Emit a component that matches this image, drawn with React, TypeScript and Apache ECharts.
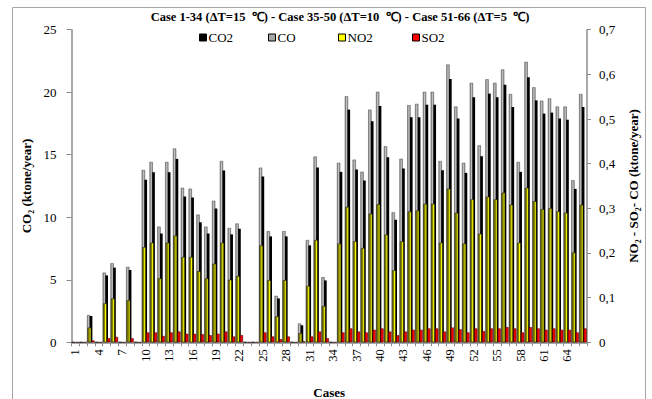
import React, { useEffect, useRef } from 'react';
import * as echarts from 'echarts';

const cases = Array.from({ length: 66 }, (_, i) => String(i + 1));

const co2 = [0, 0, 2.1, 0, 5.35, 5.97, 0, 5.78, 0, 13.0, 13.6, 8.7, 13.6, 14.67, 11.66, 11.58, 9.6, 8.7, 10.7, 13.74, 8.63, 9.08, 0, 0, 13.26, 8.47, 3.51, 8.47, 0, 1.36, 7.75, 13.98, 4.95, 0, 13.63, 18.61, 13.82, 12.94, 17.68, 18.9, 14.8, 9.8, 13.9, 18.0, 18.0, 19.0, 19.0, 13.76, 21.06, 17.9, 13.55, 19.6, 14.88, 19.89, 19.6, 20.6, 18.82, 13.63, 21.2, 19.35, 18.29, 18.37, 17.9, 17.8, 12.27, 18.82];
const co = [0, 0, 0.061, 0, 0.156, 0.177, 0, 0.169, 0, 0.386, 0.404, 0.259, 0.404, 0.434, 0.346, 0.344, 0.286, 0.259, 0.317, 0.406, 0.256, 0.266, 0, 0, 0.391, 0.249, 0.104, 0.249, 0, 0.042, 0.229, 0.416, 0.146, 0, 0.402, 0.551, 0.409, 0.382, 0.521, 0.561, 0.439, 0.291, 0.411, 0.531, 0.534, 0.561, 0.561, 0.406, 0.622, 0.528, 0.402, 0.581, 0.441, 0.589, 0.581, 0.611, 0.556, 0.404, 0.628, 0.571, 0.541, 0.546, 0.528, 0.528, 0.363, 0.556];
const no2 = [0, 0, 0.033, 0, 0.087, 0.098, 0, 0.094, 0, 0.213, 0.223, 0.143, 0.223, 0.239, 0.191, 0.191, 0.159, 0.143, 0.176, 0.223, 0.14, 0.148, 0, 0, 0.217, 0.139, 0.058, 0.139, 0, 0.02, 0.126, 0.229, 0.081, 0, 0.221, 0.303, 0.226, 0.211, 0.288, 0.309, 0.241, 0.161, 0.226, 0.293, 0.295, 0.31, 0.31, 0.223, 0.344, 0.29, 0.221, 0.32, 0.243, 0.326, 0.32, 0.335, 0.308, 0.223, 0.346, 0.316, 0.298, 0.3, 0.293, 0.29, 0.201, 0.308];
const so2 = [0, 0, 0.004, 0, 0.009, 0.012, 0, 0.009, 0, 0.022, 0.022, 0.014, 0.022, 0.024, 0.019, 0.019, 0.018, 0.016, 0.019, 0.024, 0.013, 0.016, 0, 0, 0.022, 0.013, 0.007, 0.013, 0, 0.002, 0.013, 0.024, 0.009, 0, 0.022, 0.031, 0.024, 0.022, 0.028, 0.031, 0.024, 0.016, 0.024, 0.028, 0.028, 0.031, 0.031, 0.024, 0.033, 0.029, 0.022, 0.031, 0.025, 0.031, 0.031, 0.034, 0.031, 0.022, 0.034, 0.031, 0.028, 0.031, 0.028, 0.028, 0.022, 0.031];

const titleText = 'Case 1-34 (ΔT=15  ℃) - Case 35-50 (ΔT=10  ℃) - Case 51-66 (ΔT=5  ℃)';
const FONT = 'Liberation Serif, Times New Roman, serif';

export default function App() {
  const ref = useRef<HTMLDivElement>(null);
  useEffect(() => {
    if (!ref.current) return;
    const chart = echarts.init(ref.current, undefined, { renderer: 'svg' });
    const G = echarts.graphic.LinearGradient;
    const grayFill = new G(0, 0, 1, 0, [
      { offset: 0, color: '#7a7a7a' },
      { offset: 0.5, color: '#c4c4c4' },
      { offset: 1, color: '#8a8a8a' },
    ]);
    const yellowFill = new G(0, 0, 1, 0, [
      { offset: 0, color: '#6e6e00' },
      { offset: 0.55, color: '#8c8c00' },
      { offset: 0.7, color: '#ffff00' },
      { offset: 1, color: '#ffff00' },
    ]);
    const redFill = new G(0, 0, 1, 0, [
      { offset: 0, color: '#b00000' },
      { offset: 0.6, color: '#ff0000' },
      { offset: 1, color: '#ee0000' },
    ]);
    const zeros = cases.map(() => 0);
    const dummy = (xi: number, w: number) => ({
      type: 'bar', name: '_d' + xi, xAxisIndex: xi, yAxisIndex: 1, data: zeros,
      barWidth: w, barGap: '0%', silent: true,
      itemStyle: { color: 'rgba(0,0,0,0)', borderWidth: 0 },
    });
    const xBase = {
      type: 'category', data: cases, gridIndex: 0,
    };
    const legendCommon = {
      top: 31, padding: 0, itemWidth: 7, itemHeight: 7, itemGap: 0,
      icon: 'rect', textStyle: { fontFamily: FONT, fontSize: 13, color: '#000', padding: [0, 0, 0, -3] },
      selectedMode: false,
    };
    chart.setOption({
      animation: false,
      backgroundColor: '#fff',
      grid: { left: 71.5, right: 65, top: 29.7, bottom: 56.7, containLabel: false, outerBoundsMode: 'none' },
      graphic: [
        { type: 'rect', shape: { x: 12.5, y: 7.5, width: 633, height: 400 }, style: { fill: 'none', stroke: '#a6a6a6', lineWidth: 1 }, silent: true },
        { type: 'text', x: 340, y: 17, style: { text: titleText, align: 'center', verticalAlign: 'middle', fontFamily: FONT, fontSize: 12.5, fontWeight: 'bold', fill: '#000' } },
      ],
      legend: [
        { ...legendCommon, left: 199, data: [{ name: 'CO2', itemStyle: { color: '#000', borderColor: '#000', borderWidth: 1 } }] },
        { ...legendCommon, left: 268, data: [{ name: 'CO', itemStyle: { color: '#a6a6a6', borderColor: '#000', borderWidth: 1 } }] },
        { ...legendCommon, left: 338, data: [{ name: 'NO2', itemStyle: { color: '#ffff00', borderColor: '#000', borderWidth: 1 } }] },
        { ...legendCommon, left: 412, data: [{ name: 'SO2', itemStyle: { color: '#ff0000', borderColor: '#000', borderWidth: 1 } }] },
      ],
      xAxis: [
        {
          ...xBase,
          name: 'Cases', nameLocation: 'middle', nameGap: 44,
          nameTextStyle: { fontFamily: FONT, fontSize: 13, fontWeight: 'bold', color: '#000' },
          axisLine: { lineStyle: { color: '#8c8c8c', width: 1.5 } },
          axisTick: { show: true, interval: 0, length: 4, lineStyle: { color: '#8c8c8c', width: 1 } },
          axisLabel: { interval: 2, rotate: 90, margin: 7, fontFamily: FONT, fontSize: 12.5, color: '#000' },
          splitLine: { show: false },
        },
        { ...xBase, show: false },
        { ...xBase, show: false },
        { ...xBase, show: false },
      ],
      yAxis: [
        {
          type: 'value', min: 0, max: 25, interval: 5, position: 'left',
          name: 'CO₂ (ktone/year)', nameLocation: 'middle', nameGap: 35, nameRotate: 90,
          nameTextStyle: { fontFamily: FONT, fontSize: 13, fontWeight: 'bold', color: '#000' },
          axisLine: { show: true, lineStyle: { color: '#8c8c8c', width: 1.5 } },
          axisTick: { show: true, length: 5, lineStyle: { color: '#8c8c8c' } },
          axisLabel: { margin: 15, fontFamily: FONT, fontSize: 13, color: '#000' },
          splitLine: { show: false },
        },
        {
          type: 'value', min: 0, max: 0.7, interval: 0.1, position: 'right',
          name: 'NO₂ - SO₂- CO (ktone/year)', nameLocation: 'middle', nameGap: 40, nameRotate: 90,
          nameTextStyle: { fontFamily: FONT, fontSize: 13, fontWeight: 'bold', color: '#000' },
          axisLine: { show: true, lineStyle: { color: '#8c8c8c', width: 1.5 } },
          axisTick: { show: true, length: 4, lineStyle: { color: '#8c8c8c' } },
          axisLabel: {
            margin: 12, fontFamily: FONT, fontSize: 13, color: '#000',
            formatter: (v: number) => (v === 0 ? '0' : v.toFixed(1).replace('.', ',')),
          },
          splitLine: { show: false },
        },
      ],
      series: [
        {
          type: 'bar', name: 'CO', xAxisIndex: 1, yAxisIndex: 1, data: co, barWidth: 3.3, barGap: '0%',
          itemStyle: { color: grayFill, borderColor: '#4d4d4d', borderWidth: 0.5 },
        },
        dummy(1, 4.7),
        {
          type: 'bar', name: 'CO2', xAxisIndex: 0, yAxisIndex: 0, data: co2, barWidth: 2.7,
          itemStyle: { color: '#000' },
        },
        {
          type: 'bar', name: 'NO2', xAxisIndex: 2, yAxisIndex: 1, data: no2, barWidth: 3.7, barGap: '0%',
          itemStyle: { color: yellowFill, borderColor: '#1a1a1a', borderWidth: 0.5 },
        },
        dummy(2, 3.5),
        dummy(3, 3.9),
        {
          type: 'bar', name: 'SO2', xAxisIndex: 3, yAxisIndex: 1, data: so2, barWidth: 3.3, barGap: '0%',
          itemStyle: { color: redFill, borderColor: '#3a0000', borderWidth: 0.5 },
        },
      ],
    });
    return () => chart.dispose();
  }, []);
  return <div ref={ref} style={{ position: 'fixed', left: 0, top: 0, width: 652, height: 399 }} />;
}
